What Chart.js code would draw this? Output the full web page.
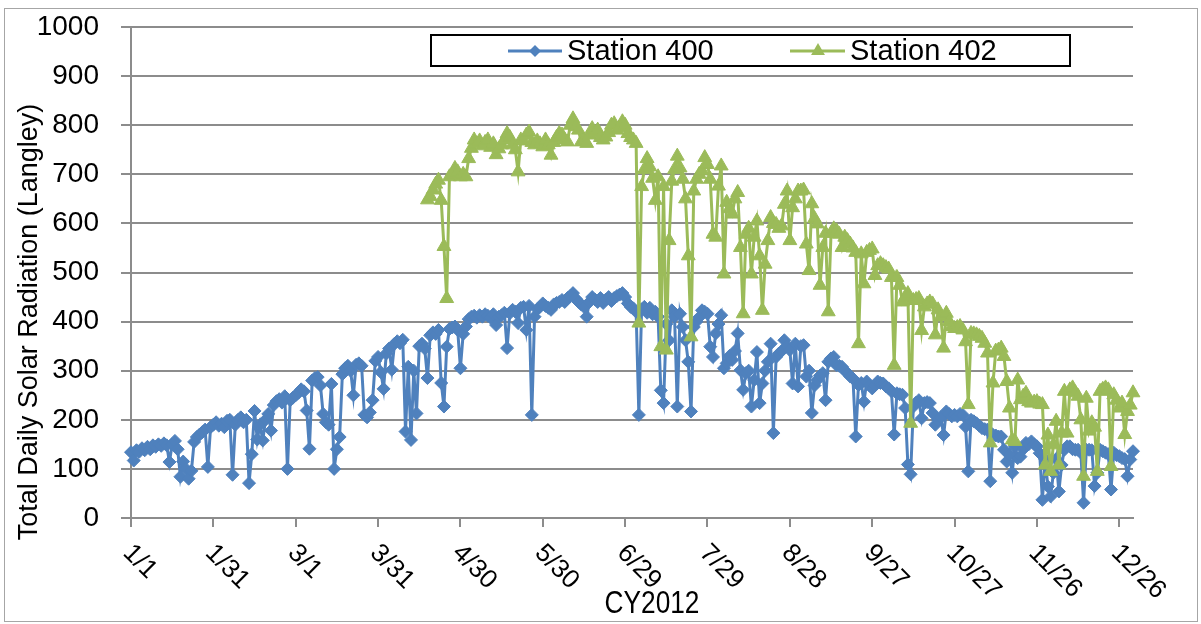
<!DOCTYPE html>
<html>
<head>
<meta charset="utf-8">
<title>Total Daily Solar Radiation CY2012</title>
<script src="https://cdn.jsdelivr.net/npm/chart.js@4.4.1/dist/chart.umd.min.js"></script>
<style>
  body { margin: 0; background: #fff; }
  canvas { display: block; }
</style>
</head>
<body>
<canvas id="chart" width="1201" height="624"></canvas>
<script>
'use strict';

// DATA
const monthLengths = [31, 29, 31, 30, 31, 30, 31, 31, 30, 31, 30, 31]; // 2012 is a leap year
const tickLabels = ['1/1', '1/31', '3/1', '3/31', '4/30', '5/30', '6/29', '7/29', '8/28', '9/27', '10/27', '11/26', '12/26'];

// Station 400, one reading per day, Jan 1 - Dec 31 (Langley)
const station400 = [
  134, 117, 138, 135, 142, 138, 145, 140, 148, 145, 150, 147, 152, 148, 114, 150, 157, 140, 84, 115, 100, 80, 96, 155, 165, 170, 175, 180, 104, 185, 190, // Jan
  195, 188, 192, 185, 198, 200, 88, 190, 200, 205, 195, 200, 71, 130, 218, 160, 190, 158, 200, 212, 178, 230, 238, 242, 235, 248, 100, 240, 245, // Feb
  250, 255, 262, 258, 219, 141, 280, 285, 287, 270, 212, 195, 190, 273, 100, 140, 165, 293, 305, 310, 300, 250, 312, 315, 310, 210, 205, 215, 240, 320, 328, // Mar
  297, 263, 335, 345, 302, 355, 360, 356, 363, 176, 308, 159, 300, 213, 350, 355, 345, 285, 372, 378, 375, 383, 275, 227, 349, 385, 388, 390, 383, 305, // Apr
  375, 390, 405, 410, 412, 408, 413, 410, 415, 412, 408, 415, 393, 410, 413, 418, 346, 417, 424, 420, 397, 428, 430, 383, 432, 210, 410, 425, 430, 437, 432, // May
  428, 424, 435, 438, 440, 444, 440, 448, 452, 458, 447, 440, 435, 430, 410, 440, 450, 445, 440, 448, 438, 445, 450, 442, 448, 452, 455, 458, 450, 437, // Jun
  430, 427, 420, 210, 425, 430, 418, 428, 415, 420, 410, 260, 234, 395, 362, 423, 410, 227, 416, 389, 362, 318, 217, 389, 400, 409, 423, 420, 416, 349, 328, // Jul
  376, 395, 413, 305, 315, 330, 322, 340, 376, 301, 261, 295, 300, 227, 281, 338, 234, 274, 300, 318, 355, 173, 328, 335, 340, 362, 350, 342, 274, 355, 268, // Aug
  350, 352, 288, 300, 214, 270, 281, 290, 295, 240, 318, 325, 328, 311, 310, 308, 300, 295, 288, 284, 166, 271, 275, 237, 278, 270, 264, 270, 278, 275, // Sep
  274, 268, 264, 258, 170, 254, 252, 251, 224, 109, 89, 227, 235, 240, 203, 234, 236, 234, 214, 190, 200, 205, 169, 217, 212, 207, 210, 207, 212, 210, 186, // Oct
  95, 200, 197, 193, 188, 183, 181, 180, 75, 169, 168, 166, 166, 139, 115, 130, 92, 146, 122, 125, 140, 153, 150, 156, 150, 146, 132, 37, 120, 64, // Nov
  44, 92, 120, 54, 108, 139, 146, 146, 140, 139, 139, 133, 31, 139, 139, 138, 65, 92, 139, 136, 133, 130, 58, 133, 128, 126, 122, 120, 85, 119, 136 // Dec
];

// Station 402 only reports from Apr 18 on
const station402Start = '4/18';
const station402 = [
  648, 655, 668, 680, 688, 647, 553, 447, 695, 700, 712, 705, 695, // Apr 18-30
  700, 695, 732, 753, 770, 762, 768, 758, 765, 770, 755, 762, 740, 752, 760, 770, 783, 775, 760, 750, 705, 770, 768, 780, 786, 765, 760, 768, 762, 756, 770, // May
  760, 739, 765, 775, 783, 780, 770, 766, 800, 813, 797, 790, 766, 770, 763, 780, 793, 785, 790, 775, 770, 776, 785, 800, 803, 790, 795, 807, 800, 783, // Jun
  775, 770, 763, 397, 675, 710, 732, 715, 692, 647, 695, 349, 675, 342, 565, 686, 710, 737, 713, 690, 650, 534, 369, 666, 690, 700, 707, 734, 720, 690, 578, // Jul
  572, 676, 717, 497, 643, 630, 619, 650, 663, 551, 416, 578, 590, 497, 572, 605, 534, 423, 517, 565, 612, 600, 598, 590, 595, 639, 666, 565, 632, 650, 666, // Aug
  666, 668, 558, 504, 640, 610, 599, 474, 551, 580, 420, 580, 589, 585, 578, 551, 572, 565, 558, 550, 541, 355, 538, 477, 541, 545, 548, 494, 514, 518, // Sep
  514, 510, 507, 490, 311, 490, 474, 440, 450, 457, 193, 443, 445, 447, 382, 430, 436, 440, 436, 373, 424, 410, 346, 417, 400, 390, 386, 388, 390, 383, 359, // Oct
  231, 376, 375, 373, 370, 366, 356, 336, 153, 275, 340, 342, 346, 329, 278, 224, 159, 156, 281, 241, 248, 254, 237, 234, 236, 237, 232, 231, 108, 169, // Nov
  95, 149, 197, 108, 173, 258, 173, 261, 265, 255, 248, 200, 85, 244, 177, 194, 185, 95, 258, 262, 265, 261, 105, 251, 240, 224, 234, 170, 217, 230, 255 // Dec
];

// COLOURS
const BLUE = '#4F81BD';
const GREEN = '#9BBB59';
const GRID = '#8c8c8c';

// one category per day of the year, labelled m/d
let days = [];
for (let m = 0; m < 12; m++) {
  for (let d = 1; d <= monthLengths[m]; d++) {
    days.push(`${m + 1}/${d}`);
  }
}

let firstDay402 = days.indexOf(station402Start);
let data402 = days.map((d, i) => (i < firstDay402 ? null : station402[i - firstDay402]));

// small marker shapes for the legend
function drawDiamond(ctx, x, y, r) {
  ctx.beginPath();
  ctx.moveTo(x, y - r);
  ctx.lineTo(x + r, y);
  ctx.lineTo(x, y + r);
  ctx.lineTo(x - r, y);
  ctx.closePath();
  ctx.fill();
}

function drawTriangle(ctx, x, y, r) {
  ctx.beginPath();
  ctx.moveTo(x, y - r);
  ctx.lineTo(x + r * 0.866, y + r * 0.5);
  ctx.lineTo(x - r * 0.866, y + r * 0.5);
  ctx.closePath();
  ctx.fill();
}

// axis titles, slanted date labels, legend box and frame
const decorations = {
  id: 'decorations',
  afterDraw(chart) {
    const ctx = chart.ctx;
    const xScale = chart.scales.x;
    ctx.save();

    // outer frame
    ctx.strokeStyle = '#a6a6a6';
    ctx.lineWidth = 1;
    ctx.strokeRect(4.5, 8.5, 1193, 613);

    // date labels, turned 45 degrees clockwise
    ctx.fillStyle = '#000';
    ctx.font = '26px "Liberation Sans", Arial, sans-serif';
    ctx.textAlign = 'left';
    ctx.textBaseline = 'middle';
    tickLabels.forEach(label => {
      let px = xScale.getPixelForValue(days.indexOf(label));
      ctx.save();
      ctx.translate(px - 4, 549);
      ctx.rotate(Math.PI / 4);
      ctx.fillText(label, 0, 0);
      ctx.restore();
    });

    // x axis title, squeezed a little sideways
    ctx.save();
    ctx.translate(652, 604);
    ctx.scale(0.82, 1);
    ctx.textAlign = 'center';
    ctx.font = '32px "Liberation Sans", Arial, sans-serif';
    ctx.fillText('CY2012', 0, 0);
    ctx.restore();

    // y axis title
    ctx.save();
    ctx.translate(30, 322);
    ctx.rotate(-Math.PI / 2);
    ctx.textAlign = 'center';
    ctx.font = '27px "Liberation Sans", Arial, sans-serif';
    ctx.fillText('Total Daily Solar Radiation (Langley)', 0, 0);
    ctx.restore();

    // legend
    ctx.fillStyle = '#fff';
    ctx.fillRect(431, 35, 639, 31);
    ctx.strokeStyle = '#000';
    ctx.lineWidth = 2;
    ctx.strokeRect(431, 35, 639, 31);

    ctx.lineWidth = 3;
    ctx.strokeStyle = BLUE;
    ctx.beginPath();
    ctx.moveTo(508, 51);
    ctx.lineTo(562, 51);
    ctx.stroke();
    ctx.fillStyle = BLUE;
    drawDiamond(ctx, 535, 51, 6);

    ctx.strokeStyle = GREEN;
    ctx.beginPath();
    ctx.moveTo(790, 51);
    ctx.lineTo(845, 51);
    ctx.stroke();
    ctx.fillStyle = GREEN;
    drawTriangle(ctx, 818, 51, 8);

    ctx.fillStyle = '#000';
    ctx.textAlign = 'left';
    ctx.font = '29px "Liberation Sans", Arial, sans-serif';
    ctx.fillText('Station 400', 567, 52);
    ctx.fillText('Station 402', 850, 52);

    ctx.restore();
  }
};

new Chart(document.getElementById('chart'), {
  type: 'line',
  data: {
    labels: days,
    datasets: [{
      label: 'Station 400',
      data: station400,
      borderColor: BLUE,
      backgroundColor: BLUE,
      borderWidth: 3,
      pointStyle: 'rectRot',
      pointRadius: 6.5,
      pointBorderWidth: 1,
      pointBackgroundColor: BLUE,
      pointBorderColor: BLUE,
      tension: 0,
      order: 2
    },
    {
      label: 'Station 402',
      data: data402,
      borderColor: GREEN,
      backgroundColor: GREEN,
      borderWidth: 3,
      pointStyle: 'triangle',
      pointRadius: 8,
      pointBorderWidth: 1,
      pointBackgroundColor: GREEN,
      pointBorderColor: GREEN,
      tension: 0,
      order: 1
    }]
  },
  options: {
    responsive: false,
    animation: false,
    devicePixelRatio: 1,
    events: [],
    layout: { padding: { top: 27, right: 68, bottom: 0, left: 0 } },
    plugins: {
      legend: { display: false },
      tooltip: { enabled: false }
    },
    scales: {
      x: {
        type: 'category',
        offset: false,
        border: { color: GRID, width: 2 },
        grid: {
          drawOnChartArea: false,
          drawTicks: true,
          tickLength: 9,
          lineWidth: 2,
          color: c => (c.index % 30 === 0 ? GRID : 'rgba(0,0,0,0)')
        },
        ticks: { display: false, autoSkip: false },
        afterFit: s => { s.height = 106; }
      },
      y: {
        min: 0,
        max: 1000,
        border: { color: GRID, width: 2 },
        grid: { color: GRID, lineWidth: 2, tickLength: 10 },
        ticks: {
          stepSize: 100,
          color: '#000',
          padding: 22,
          font: { family: '"Liberation Sans", Arial, sans-serif', size: 28 },
          callback: v => String(v)
        },
        // keep the plot box where the layout padding puts it
        afterFit: s => {
          s.width = 131;
          s.paddingTop = 0;
          s.paddingBottom = 0;
        }
      }
    }
  },
  plugins: [decorations]
});
</script>
</body>
</html>
